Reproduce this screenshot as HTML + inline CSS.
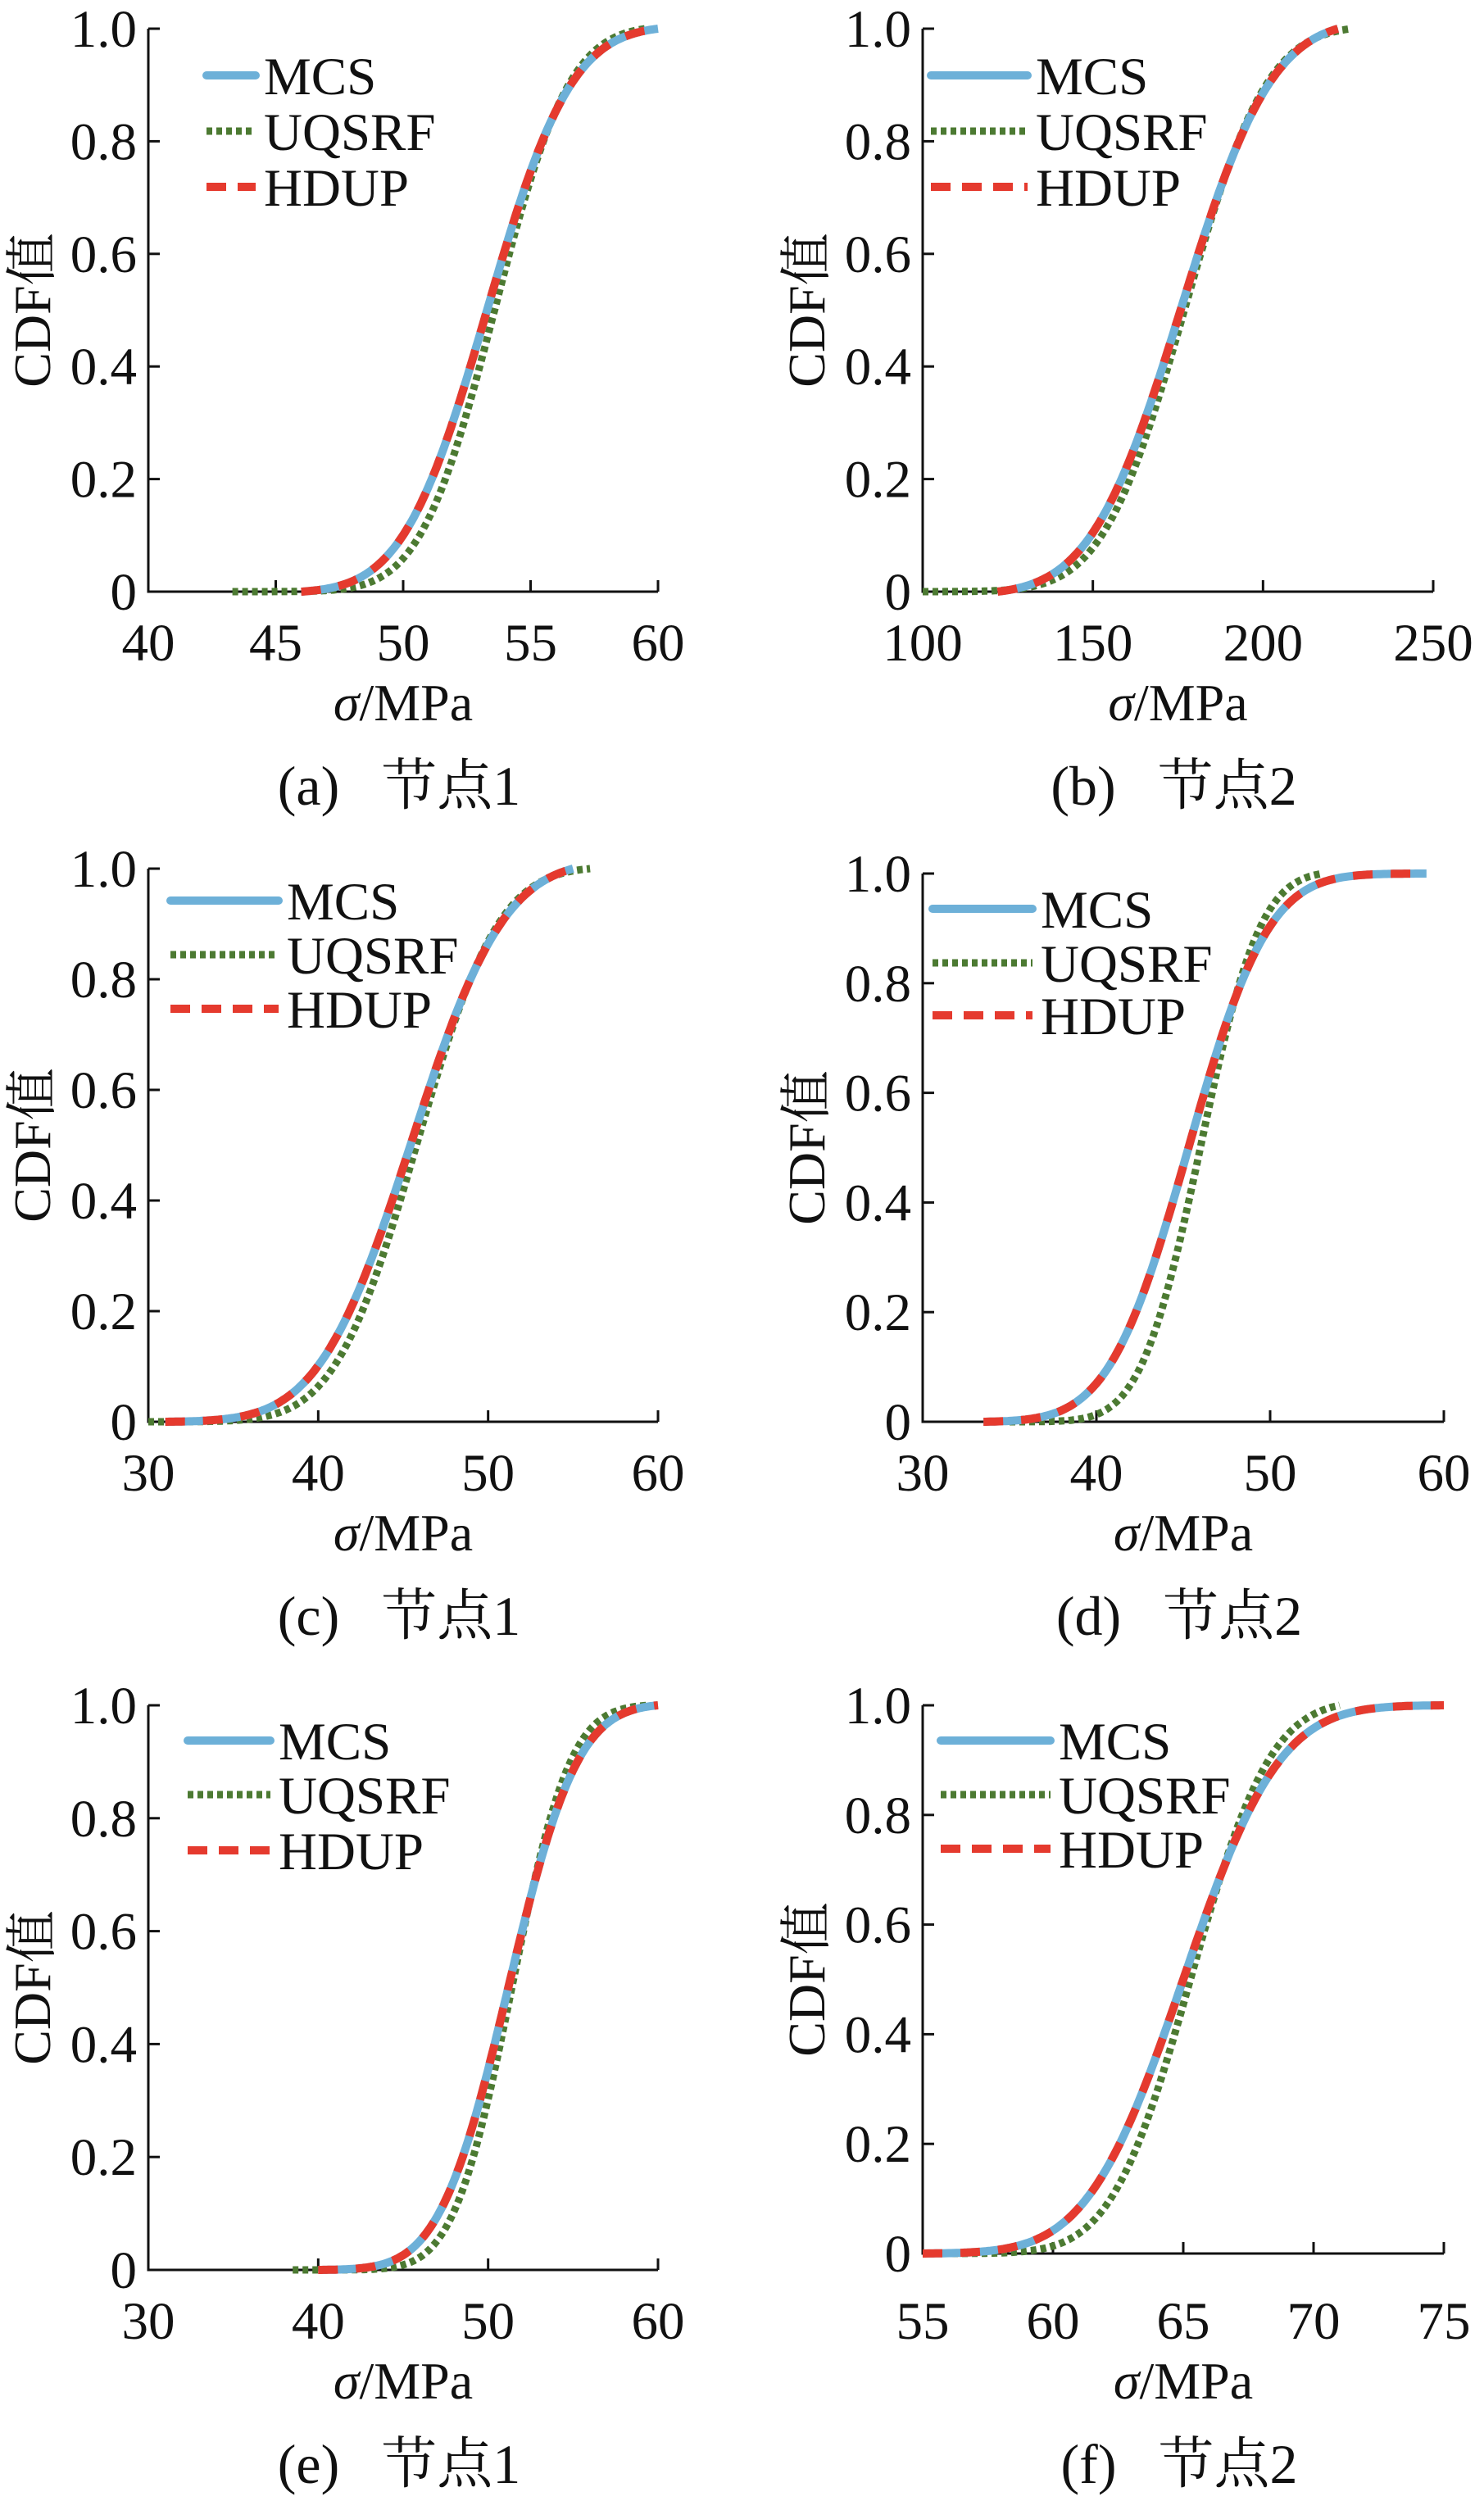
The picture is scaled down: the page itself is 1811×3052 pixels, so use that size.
<!DOCTYPE html>
<html><head><meta charset="utf-8"><style>
html,body{margin:0;padding:0;background:#fff;}
svg{display:block;}
text{font-family:"Liberation Serif","Noto Serif CJK SC",serif;fill:#111;}
</style></head><body>
<svg id="s" width="1811" height="3052" viewBox="0 0 1811 3052" xmlns="http://www.w3.org/2000/svg"></svg>
<script>
function erf(x){var s=x<0?-1:1;x=Math.abs(x);var t=1/(1+0.3275911*x);var y=1-(((((1.061405429*t-1.453152027)*t)+1.421413741)*t-0.284496736)*t+0.254829592)*t*Math.exp(-x*x);return s*y;}
function cdf(x,m,s){return 0.5*(1+erf((x-m)/(s*Math.SQRT2)));}
var P=[
 {L:181,R:803,T:35,B:722,x0:40,x1:60,xt:[40,45,50,55,60],leg:[252,312,92,160,228],cap:"(a)  节点1",
  mcs:[53.3,2.6,46,60],uq:[53.6,2.3,43.3,59.5]},
 {L:1126,R:1749,T:35,B:722,x0:100,x1:250,xt:[100,150,200,250],leg:[1136,1254,92,160,228],cap:"(b)  节点2",
  mcs:[176,21,122,222],uq:[177,19,100,226]},
 {L:181,R:803,T:1060,B:1735,x0:30,x1:60,xt:[30,40,50,60],leg:[208,340,1099,1165,1231],cap:"(c)  节点1",
  mcs:[45.5,4.3,31,55],uq:[45.8,3.8,30,56]},
 {L:1126,R:1762,T:1066,B:1735,x0:30,x1:60,xt:[30,40,50,60],leg:[1138,1260,1109,1175,1239],cap:"(d)  节点2",
  mcs:[45.3,3.6,33.5,59],uq:[46,2.7,35,53]},
 {L:181,R:803,T:2081,B:2770,x0:30,x1:60,xt:[30,40,50,60],leg:[229,330,2124,2190,2258],cap:"(e)  节点1",
  mcs:[51.2,3.2,40,60],uq:[51.4,2.7,38.5,59.5]},
 {L:1126,R:1762,T:2081,B:2750,TB:2770,x0:55,x1:75,xt:[55,60,65,70,75],leg:[1148,1282,2124,2190,2256],cap:"(f)  节点2",
  mcs:[65,2.9,55,75],uq:[65.3,2.4,55,71]}
];
var h='';
P.forEach(function(p){
 var sx=function(v){return p.L+(v-p.x0)/(p.x1-p.x0)*(p.R-p.L);};
 var sy=function(v){return p.B-v*(p.B-p.T);};
 var TB=p.TB||p.B;
 function path(c){var d='';var y0=cdf(c[2],c[0],c[1]),y1=cdf(c[3],c[0],c[1]);for(var i=0;i<=200;i++){var x=c[2]+(c[3]-c[2])*i/200;var y=(cdf(x,c[0],c[1])-y0)/(y1-y0);d+=(i?'L':'M')+sx(x).toFixed(1)+' '+sy(y).toFixed(1);}return d;}
 h+='<path d="M'+p.L+' '+p.T+'V'+p.B+'H'+p.R+'" fill="none" stroke="#111" stroke-width="3"/>';
 for(var i=0;i<=5;i++){var y=sy(i/5);h+='<line x1="'+p.L+'" y1="'+y+'" x2="'+(p.L+14)+'" y2="'+y+'" stroke="#111" stroke-width="3"/>';
  h+='<text x="'+(p.L-14)+'" y="'+(y+22)+'" font-size="65" text-anchor="end">'+(i==0?'0':(i/5).toFixed(1))+'</text>';}
 p.xt.forEach(function(v){var x=sx(v);if(v!=p.x0)h+='<line x1="'+x+'" y1="'+p.B+'" x2="'+x+'" y2="'+(p.B-14)+'" stroke="#111" stroke-width="3"/>';
  h+='<text x="'+x+'" y="'+(TB+84)+'" font-size="65" text-anchor="middle">'+v+'</text>';});
 var cx=(p.L+p.R)/2, cy=(p.T+p.B)/2;
 h+='<text x="'+(p.L-120)+'" y="'+cy+'" font-size="64" text-anchor="middle" transform="rotate(-90 '+(p.L-120)+' '+cy+')">CDF值</text>';
 h+='<text x="'+cx+'" y="'+(TB+157)+'" font-size="64" text-anchor="middle"><tspan font-style="italic">σ</tspan>/MPa</text>';
 h+='<text x="'+(cx-5)+'" y="'+(TB+260)+'" font-size="68" text-anchor="middle" xml:space="preserve">'+p.cap.replace('  ','   ')+'</text>';
 h+='<path d="'+path(p.uq)+'" fill="none" stroke="#4c7a32" stroke-width="9" stroke-dasharray="7 5"/>';
 h+='<path d="'+path(p.mcs)+'" fill="none" stroke="#6db0d8" stroke-width="10"/>';
 h+='<path d="'+path(p.mcs)+'" fill="none" stroke="#e53a2e" stroke-width="10" stroke-dasharray="24 22"/>';
 var a=p.leg[0],b=p.leg[1];
 h+='<line x1="'+a+'" y1="'+p.leg[2]+'" x2="'+b+'" y2="'+p.leg[2]+'" stroke="#6db0d8" stroke-width="10" stroke-linecap="round"/>';
 h+='<line x1="'+a+'" y1="'+p.leg[3]+'" x2="'+b+'" y2="'+p.leg[3]+'" stroke="#4c7a32" stroke-width="9" stroke-dasharray="7 5"/>';
 h+='<line x1="'+a+'" y1="'+p.leg[4]+'" x2="'+b+'" y2="'+p.leg[4]+'" stroke="#e53a2e" stroke-width="10" stroke-dasharray="24 14"/>';
 var names=['MCS','UQSRF','HDUP'];
 for(var k=0;k<3;k++)h+='<text x="'+(b+10)+'" y="'+(p.leg[2+k]+23)+'" font-size="65">'+names[k]+'</text>';
});
document.getElementById('s').innerHTML=h;
</script>
</body></html>
